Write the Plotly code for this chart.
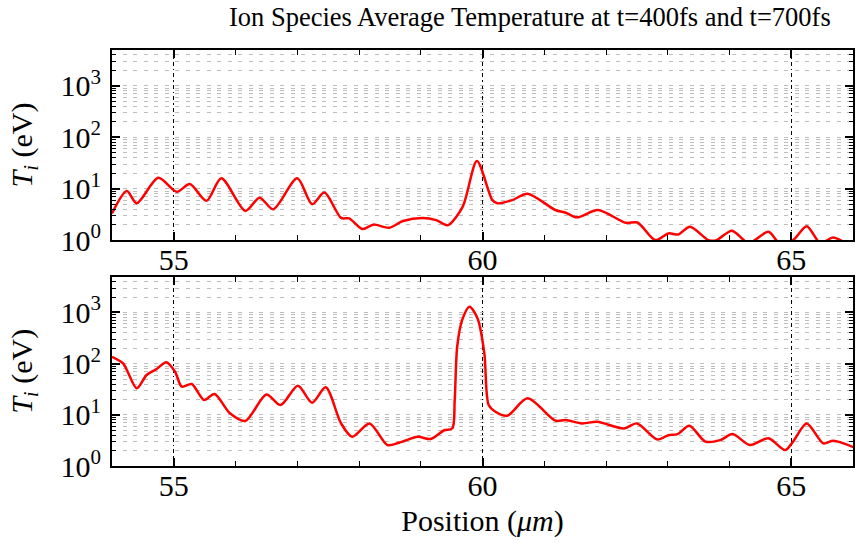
import plotly.graph_objects as go
from plotly.subplots import make_subplots
import math

# ---- data ----
x_400 = [54.00, 54.24, 54.40, 54.75, 55.05, 55.26, 55.53, 55.77, 56.16, 56.39, 56.61,
         57.00, 57.24, 57.44, 57.71, 57.84, 58.06, 58.23, 58.49, 58.71, 59.03, 59.25,
         59.44, 59.68, 59.91, 60.16, 60.24, 60.48, 60.73, 61.18, 61.35, 61.53, 61.87,
         62.32, 62.51, 62.80, 63.01, 63.17, 63.36, 63.66, 63.79, 64.04, 64.31, 64.63,
         64.82, 65.03, 65.25, 65.47, 65.68, 65.92, 66.02]
T_400 = [3.3, 9.0, 5.2, 16.3, 8.7, 12.3, 5.8, 16.0, 3.7, 6.7, 4.0,
         16.0, 5.0, 8.4, 2.7, 2.65, 1.64, 2.0, 1.74, 2.35, 2.7, 2.45,
         1.96, 4.5, 34.6, 6.0, 5.2, 6.0, 8.0, 3.85, 3.4, 2.77, 3.85,
         2.17, 2.2, 1.0, 1.35, 1.29, 1.82, 1.0, 1.0, 1.52, 0.88, 1.45,
         0.85, 1.0, 1.87, 0.88, 1.13, 0.85, 0.9]

x_700 = [54.00, 54.18, 54.40, 54.56, 54.72, 54.88, 55.02, 55.13, 55.29, 55.49, 55.66,
         55.91, 56.16, 56.50, 56.73, 57.01, 57.24, 57.46, 57.71, 57.89, 58.17, 58.46,
         58.65, 58.95, 59.16, 59.38, 59.51, 59.55, 59.59, 59.67, 59.79, 59.92, 60.03,
         60.10, 60.21, 60.40, 60.73, 61.18, 61.35, 61.61, 61.86, 62.29, 62.50, 62.83,
         63.01, 63.16, 63.35, 63.61, 63.85, 64.05, 64.33, 64.63, 64.90, 65.03, 65.25,
         65.52, 65.68, 66.02]
T_700 = [136, 101, 33, 60, 78, 107, 70, 35.5, 40, 19.5, 25.5,
         10.7, 7.6, 25, 15.5, 37, 17.2, 34.5, 6.8, 3.73, 6.8, 2.57,
         2.85, 3.73, 3.37, 5.0, 5.4, 19.5, 214, 710, 1290, 765, 159,
         15.5, 11.5, 9.6, 21, 7.7, 7.9, 6.8, 7.3, 5.4, 6.8, 3.3,
         4.0, 4.2, 6.1, 3.0, 3.2, 4.2, 2.57, 3.47, 2.05, 3.0, 6.8,
         2.77, 3.1, 2.3]

title_text = "Ion Species Average Temperature at t=400fs and t=700fs"
y_tickvals = [1, 10, 100, 1000]
y_ticktext = ["10<sup>0</sup>", "10<sup>1</sup>", "10<sup>2</sup>", "10<sup>3</sup>"]
y_minor = [m * d for d in (1, 10, 100, 1000) for m in range(2, 10) if m * d <= 5000]
x_tickvals = [55, 60, 65]
x_range = [54, 66]
y_max = 5000

FONT = "Liberation Serif, Times New Roman, serif"
TICK_SIZE = 30

fig = make_subplots(rows=2, cols=1, vertical_spacing=0.09)
fig.add_trace(go.Scatter(x=x_400, y=T_400, mode="lines", line=dict(color="#ff0000", width=2.5, shape="spline", smoothing=0.8)), row=1, col=1)
fig.add_trace(go.Scatter(x=x_700, y=T_700, mode="lines", line=dict(color="#ff0000", width=2.5, shape="spline", smoothing=0.8)), row=2, col=1)

for r in (1, 2):
    fig.update_xaxes(row=r, col=1, range=x_range, tickvals=x_tickvals, ticks="inside", ticklen=8,
                     tickwidth=1.5, tickcolor="black", showline=True, linewidth=2, linecolor="black",
                     mirror="allticks", showgrid=True, gridcolor="black", gridwidth=1.2,
                     griddash="4px,3px,1.5px,3px", zeroline=False,
                     tickfont=dict(family=FONT, size=TICK_SIZE, color="black"), ticklabelstandoff=-8,
                     minor=dict(dtick=1, tick0=54, ticks="inside", ticklen=5, tickwidth=1.2,
                                tickcolor="black", showgrid=False))
    fig.update_yaxes(row=r, col=1, type="log", range=[0, math.log10(y_max)], tickmode="array",
                     tickvals=y_tickvals, ticktext=y_ticktext, ticks="inside", ticklen=8, tickwidth=1.5,
                     tickcolor="black", showline=True, linewidth=2, linecolor="black", mirror="allticks",
                     showgrid=True, gridcolor="#bdbdbd", gridwidth=1, griddash="4px,6.5px", zeroline=False,
                     tickfont=dict(family=FONT, size=TICK_SIZE, color="black"), ticklabelstandoff=3,
                     title=dict(text="<i>T<sub>i</sub></i> (eV)", font=dict(family=FONT, size=TICK_SIZE, color="black"),
                                standoff=19),
                     minor=dict(tickmode="array", tickvals=y_minor, ticks="inside", ticklen=4, tickwidth=1,
                                tickcolor="black", showgrid=True, gridcolor="#bdbdbd", gridwidth=1,
                                griddash="4px,6.5px"))

fig.update_xaxes(row=2, col=1, title=dict(text="Position (<i>μm</i>)", font=dict(family=FONT, size=TICK_SIZE, color="black"), standoff=9))
fig.update_layout(
    width=856, height=549,
    margin=dict(l=112, r=1, t=50, b=83),
    paper_bgcolor="white", plot_bgcolor="white",
    font=dict(family=FONT, color="black"),
    showlegend=False,
    title=dict(text=title_text, x=0.619, xanchor="center", y=0.969, yanchor="middle",
               font=dict(family=FONT, size=26.5, color="black")),
    yaxis=dict(domain=[0.543, 1.0]),
    yaxis2=dict(domain=[0.0, 0.455]),
)
fig.write_html("out.html")
